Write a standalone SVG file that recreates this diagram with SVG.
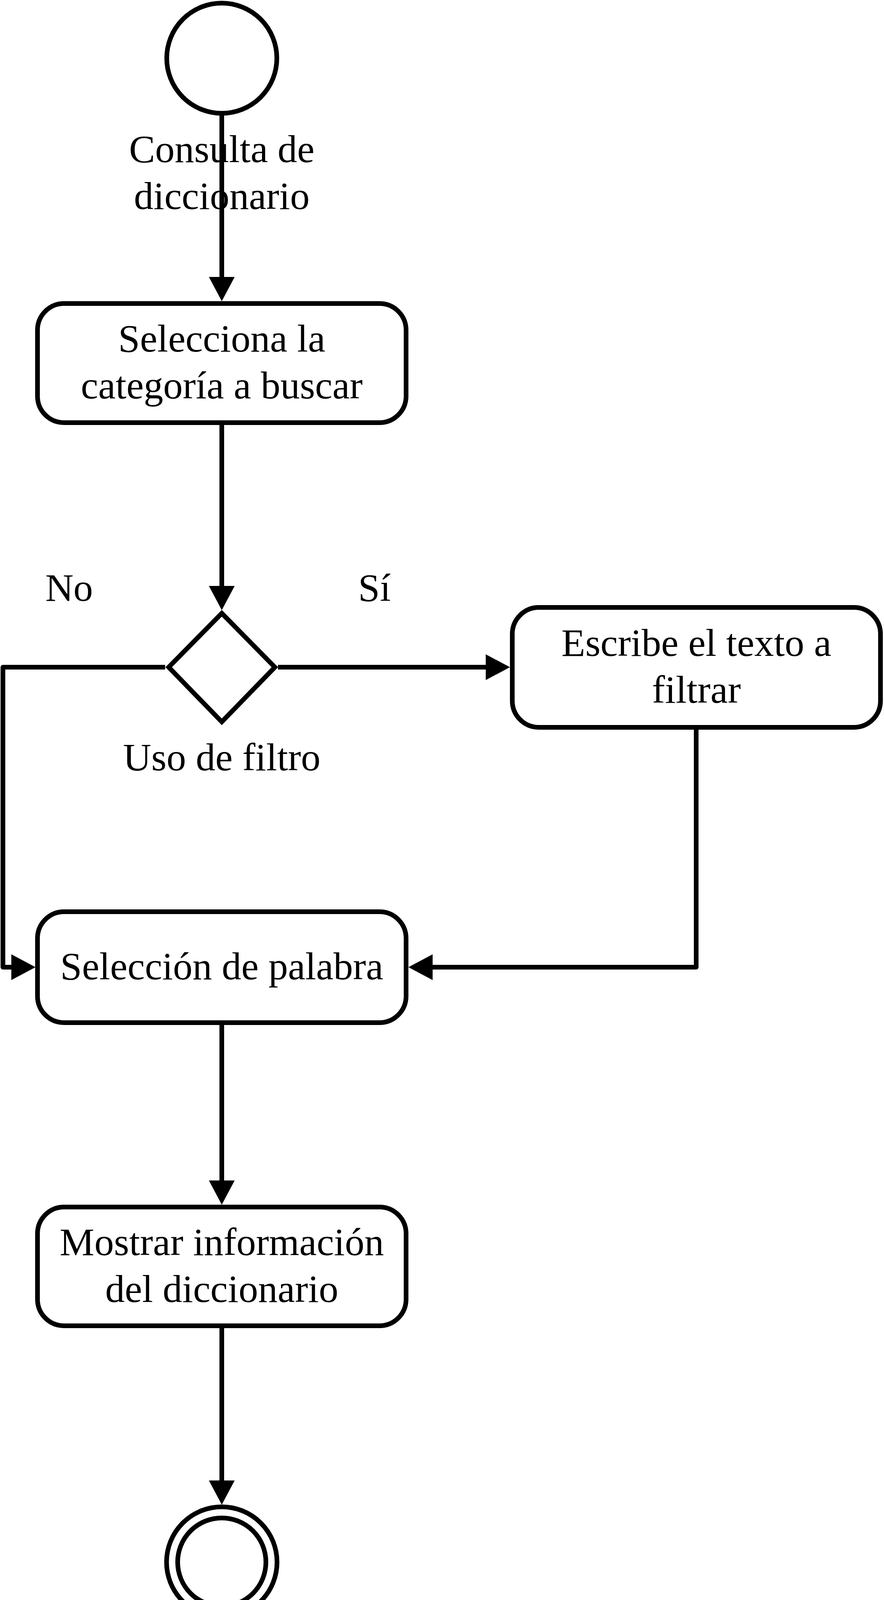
<svg xmlns="http://www.w3.org/2000/svg" width="2264" height="4151" viewBox="0 0 2264 4151">
<style>
  .node { fill: #ffffff; stroke: #000000; stroke-width: 12; }
  .conn { fill: none; stroke: #000000; stroke-width: 12; stroke-linejoin: round; }
  .txt { font-family: "Liberation Serif", "Times New Roman", serif; font-size: 100px; fill: #000000; text-anchor: middle; }
</style>
<defs>
  <marker id="arrow" markerUnits="userSpaceOnUse" markerWidth="62" markerHeight="66" viewBox="0 0 62 66" refX="0" refY="33" orient="auto">
    <path d="M0,0 L62,33 L0,66 Z" fill="#000000"/>
  </marker>
</defs>
<rect x="0" y="0" width="2264" height="4151" fill="#ffffff"/>

<g id="connectors">
  <path class="conn" d="M568,290 L568,709" marker-end="url(#arrow)"/>
  <path class="conn" d="M568,1088 L568,1500" marker-end="url(#arrow)"/>
  <path class="conn" d="M712,1708 L1244,1708" marker-end="url(#arrow)"/>
  <path class="conn" d="M423,1708 L7.5,1708 L7.5,2476 L29,2476" marker-end="url(#arrow)"/>
  <path class="conn" d="M1783,1868 L1783,2476 L1108,2476" marker-end="url(#arrow)"/>
  <path class="conn" d="M568,2623 L568,3022" marker-end="url(#arrow)"/>
  <path class="conn" d="M568,3400 L568,3790" marker-end="url(#arrow)"/>
</g>

<g id="start">
  <circle class="node" cx="568" cy="149" r="141"/>
</g>
<g id="label-consulta">
  <text class="txt" x="568" y="415">Consulta de</text>
  <text class="txt" x="568" y="535">diccionario</text>
</g>

<g id="selecciona">
  <rect class="node" x="96" y="777" width="944" height="305" rx="68" ry="68"/>
  <text class="txt" x="568" y="900">Selecciona la</text>
  <text class="txt" x="568" y="1020">categoría a buscar</text>
</g>

<g id="decision">
  <polygon class="node" points="568,1570 704,1708 568,1848 432,1708"/>
  <text class="txt" x="568" y="1972">Uso de filtro</text>
</g>
<g id="label-no">
  <text class="txt" x="177" y="1538">No</text>
</g>
<g id="label-si">
  <text class="txt" x="959" y="1538">Sí</text>
</g>

<g id="escribe">
  <rect class="node" x="1312" y="1555" width="943" height="307" rx="68" ry="68"/>
  <text class="txt" x="1783.5" y="1679">Escribe el texto a</text>
  <text class="txt" x="1783.5" y="1799">filtrar</text>
</g>

<g id="seleccion">
  <rect class="node" x="96" y="2334" width="944" height="284" rx="68" ry="68"/>
  <text class="txt" x="568" y="2507">Selección de palabra</text>
</g>

<g id="mostrar">
  <rect class="node" x="96" y="3090" width="944" height="304" rx="68" ry="68"/>
  <text class="txt" x="568" y="3213">Mostrar información</text>
  <text class="txt" x="568" y="3333">del diccionario</text>
</g>

<g id="end">
  <circle class="node" cx="568" cy="3999" r="141.5"/>
  <circle class="node" cx="568" cy="3999" r="113"/>
</g>
</svg>
